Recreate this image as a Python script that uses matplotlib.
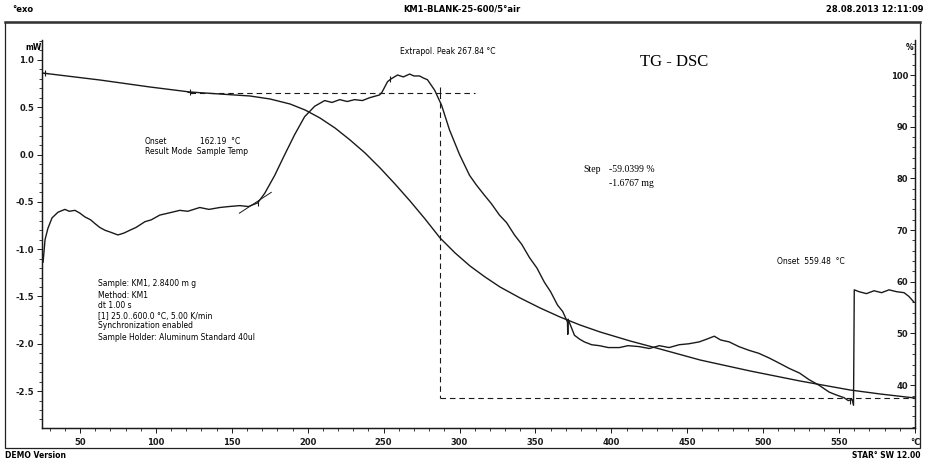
import matplotlib
matplotlib.use("Agg")
import matplotlib.pyplot as plt
from matplotlib.ticker import MultipleLocator, FixedLocator, FixedFormatter
from matplotlib.lines import Line2D
from matplotlib.patches import Rectangle

# ---------------- data ----------------
# DSC signal (mW) vs sample temperature (°C)
dsc_temp = [25.0, 25.7, 27.0, 28.9, 31.6, 35.5, 40.1, 43.0, 46.7, 50.0, 53.3, 57.0, 59.9, 63.0,
            66.4, 70.0, 75.0, 79.0, 82.9, 87.0, 92.8, 97.0, 102.6, 108.0, 115.8, 121.0, 128.9,
            135.0, 142.1, 148.0, 155.3, 161.0, 167.1, 171.7, 178.3, 184.9, 191.4, 198.0, 204.6,
            211.2, 216.0, 221.1, 226.0, 230.9, 236.0, 240.8, 247.4, 249.0, 252.6, 255.0, 259.2,
            263.0, 267.1, 270.0, 273.7, 276.0, 278.9, 283.6, 288.2, 293.4, 300.0, 306.6, 311.0,
            316.4, 321.0, 326.3, 331.0, 336.2, 341.0, 346.1, 351.0, 355.9, 360.0, 364.5, 368.0,
            371.1, 371.3, 371.5, 375.7, 379.0, 382.2, 387.0, 392.1, 398.0, 405.3, 411.0, 418.4,
            425.0, 431.6, 438.0, 444.7, 451.0, 457.9, 463.0, 467.8, 472.0, 477.6, 484.0, 490.8,
            497.0, 503.9, 510.0, 517.1, 524.0, 530.3, 537.0, 543.4, 548.0, 553.3, 556.0, 558.6,
            559.5, 560.0, 563.2, 568.0, 573.0, 578.0, 582.9, 588.0, 592.8, 596.0, 599.3]
dsc_mw = [-1.01, -1.14, -0.90, -0.78, -0.67, -0.61, -0.58, -0.60, -0.59, -0.62, -0.66, -0.69,
          -0.73, -0.77, -0.80, -0.82, -0.85, -0.83, -0.80, -0.77, -0.71, -0.69, -0.64, -0.62,
          -0.59, -0.60, -0.56, -0.58, -0.56, -0.55, -0.54, -0.55, -0.51, -0.41, -0.22, 0.00,
          0.21, 0.40, 0.51, 0.57, 0.55, 0.58, 0.56, 0.58, 0.57, 0.60, 0.63, 0.66, 0.77, 0.80,
          0.84, 0.82, 0.85, 0.83, 0.83, 0.81, 0.79, 0.68, 0.52, 0.26, 0.00, -0.22, -0.32, -0.43,
          -0.52, -0.64, -0.72, -0.85, -0.95, -1.09, -1.20, -1.35, -1.45, -1.59, -1.66, -1.77,
          -1.90, -1.74, -1.91, -1.95, -1.98, -2.01, -2.02, -2.04, -2.04, -2.02, -2.03, -2.05,
          -2.02, -2.04, -2.01, -2.00, -1.98, -1.95, -1.92, -1.96, -1.98, -2.03, -2.07, -2.10,
          -2.15, -2.20, -2.26, -2.31, -2.38, -2.44, -2.51, -2.54, -2.57, -2.60, -2.59, -2.65,
          -1.43, -1.45, -1.47, -1.44, -1.46, -1.43, -1.45, -1.46, -1.50, -1.56]

# TG signal (%) vs sample temperature (°C)
tg_temp = [25.0, 63.2, 96.1, 122.5, 142.3, 162.0, 175.2, 188.4, 198.3, 208.1, 218.0, 227.9,
           237.8, 247.7, 257.5, 267.4, 277.3, 287.2, 297.1, 306.9, 316.8, 326.7, 339.9, 353.1,
           366.2, 379.4, 392.6, 412.4, 432.1, 458.5, 491.4, 524.3, 557.3, 577.0, 600.0]
tg_pct = [100.39, 99.03, 97.68, 96.71, 96.32, 95.94, 95.36, 94.39, 93.23, 91.68, 89.75, 87.43,
          84.91, 82.01, 78.92, 75.63, 72.15, 68.47, 65.57, 63.06, 60.93, 58.99, 56.87, 54.93,
          53.19, 51.64, 50.29, 48.55, 47.00, 44.87, 42.75, 40.81, 39.07, 38.30, 37.52]

# TG step evaluation (levels in %, temperatures in °C)
step_left_temp = [122.5, 310.2]
step_level_hi = 96.5
step_mid_temp = 287.2
step_right_temp = [287.2, 600.0]
step_level_lo = 37.5

x_ticks = [50, 100, 150, 200, 250, 300, 350, 400, 450, 500, 550, 600]
x_labels = ["50", "100", "150", "200", "250", "300", "350", "400", "450", "500", "550", "°C"]
mw_ticks = [1.0, 0.5, 0.0, -0.5, -1.0, -1.5, -2.0, -2.5]
mw_labels = ["1.0", "0.5", "0.0", "-0.5", "-1.0", "-1.5", "-2.0", "-2.5"]
pct_ticks = [100, 90, 80, 70, 60, 50, 40]
pct_labels = ["100", "90", "80", "70", "60", "50", "40"]

# ---------------- figure ----------------
W, H = 925, 463
fig = plt.figure(figsize=(W / 100, H / 100), dpi=100)
fig.patch.set_facecolor("white")

def fx(x):
    return x / W

def fy(y):
    return 1 - y / H

# outer frame
fig.add_artist(Rectangle((fx(5), fy(448)), fx(920) - fx(5), fy(22) - fy(448),
                         transform=fig.transFigure, fill=False, lw=0.9, ec="#222222"))
fig.add_artist(Line2D([fx(5), fx(920)], [fy(22), fy(22)], transform=fig.transFigure,
                      lw=1.8, color="#333333"))

ink = "#1a1a1a"
ax = fig.add_axes([fx(42), fy(428), fx(915) - fx(42), fy(40) - fy(428)])
ax.set_facecolor("none")
ax.set_xlim(25, 600)
ax.set_ylim(-2.89, 1.21)
ax2 = ax.twinx()
ax2.set_ylim(31.72, 106.77)

for a in (ax, ax2):
    a.spines["top"].set_visible(False)
    for s in ("left", "right", "bottom"):
        a.spines[s].set_linewidth(0.9)
        a.spines[s].set_color(ink)

ax.xaxis.set_major_locator(FixedLocator(x_ticks))
ax.xaxis.set_major_formatter(FixedFormatter(x_labels))
ax.xaxis.set_minor_locator(MultipleLocator(10))
ax.yaxis.set_major_locator(FixedLocator(mw_ticks))
ax.yaxis.set_major_formatter(FixedFormatter(mw_labels))
ax.yaxis.set_minor_locator(MultipleLocator(0.1))
ax.tick_params(axis="both", which="major", length=3.5, width=0.7, colors=ink,
               labelsize=6, pad=2)
ax.tick_params(axis="both", which="minor", length=2.2, width=0.6, colors=ink)
ax.tick_params(axis="x", pad=4)

ax2.yaxis.set_major_locator(FixedLocator(pct_ticks))
ax2.yaxis.set_major_formatter(FixedFormatter(pct_labels))
ax2.yaxis.set_minor_locator(MultipleLocator(2))
ax2.tick_params(axis="y", which="major", direction="in", length=3.5, width=0.7,
                colors=ink, labelsize=6, pad=-5)
ax2.tick_params(axis="y", which="minor", direction="in", length=2.2, width=0.6, colors=ink)
for lab in ax2.get_yticklabels():
    lab.set_horizontalalignment("right")

for lab in ax.get_xticklabels() + ax.get_yticklabels() + ax2.get_yticklabels():
    lab.set_fontweight("bold")

# curves
ax.plot(dsc_temp, dsc_mw, color=ink, lw=1.0)
ax2.plot(tg_temp, tg_pct, color=ink, lw=1.0)

# step evaluation lines
dash = dict(color=ink, lw=0.8, ls=(0, (5, 3.5)))
ax2.plot(step_left_temp, [step_level_hi, step_level_hi], **dash)
ax2.plot([step_mid_temp, step_mid_temp], [step_level_hi, step_level_lo], **dash)
ax2.plot(step_right_temp, [step_level_lo, step_level_lo], **dash)

# small evaluation markers
ax2.plot([27.0, tg_temp[3]], [tg_pct[0], tg_pct[3]], ls="none", marker="+", ms=5,
         mew=0.8, color=ink)
ax.plot([167.1, 254.0, 287.0, 557.5], [-0.51, 0.80, 0.68, -2.60], ls="none", marker="|",
        ms=5, mew=0.8, color=ink)
# onset tangent at 162.19 °C
ax.plot([155.0, 176.0], [-0.62, -0.40], color=ink, lw=0.7)

# ---------------- texts ----------------
fs_hdr = 6
fig.text(fx(12), fy(9), "°exo", fontsize=fs_hdr, fontweight="bold", va="center", ha="left")
fig.text(fx(462), fy(9), "KM1-BLANK-25-600/5°air", fontsize=fs_hdr, fontweight="bold",
         va="center", ha="center")
fig.text(fx(924), fy(9), "28.08.2013 12:11:09", fontsize=fs_hdr, fontweight="bold",
         va="center", ha="right")
fig.text(fx(5), fy(456), "DEMO Version", fontsize=5.5, fontweight="bold", va="center",
         ha="left")
fig.text(fx(921), fy(456), "STAR° SW 12.00", fontsize=5.5, fontweight="bold", va="center",
         ha="right")

fig.text(fx(25), fy(47), "mW", fontsize=5.5, fontweight="bold", va="center", ha="left")
fig.text(fx(906), fy(47), "%", fontsize=5.5, fontweight="bold", va="center", ha="left")

fs = 5.5
fig.text(fx(400), fy(51), "Extrapol. Peak 267.84 °C", fontsize=fs, va="center", ha="left")
fig.text(fx(640), fy(62), "TG - DSC", fontsize=12, family="Liberation Serif",
         va="center", ha="left")
fig.text(fx(145), fy(141), "Onset", fontsize=fs, va="center", ha="left")
fig.text(fx(200), fy(141), "162.19  °C", fontsize=fs, va="center", ha="left")
fig.text(fx(145), fy(152), "Result Mode  Sample Temp", fontsize=fs, va="center", ha="left")

info = ["Sample: KM1, 2.8400 m g", "Method: KM1", "dt 1.00 s",
        "[1] 25.0..600.0 °C, 5.00 K/min", "Synchronization enabled",
        "Sample Holder: Aluminum Standard 40ul"]
info_y = [283, 295, 305, 316, 326, 338]
for t, yy in zip(info, info_y):
    fig.text(fx(98), fy(yy), t, fontsize=fs, va="center", ha="left")

fig.text(fx(583), fy(170), "Step", fontsize=7, family="Liberation Serif", va="center",
         ha="left")
fig.text(fx(609), fy(170), "-59.0399 %", fontsize=7, family="Liberation Serif",
         va="center", ha="left")
fig.text(fx(609), fy(183), "-1.6767 mg", fontsize=7, family="Liberation Serif",
         va="center", ha="left")
fig.text(fx(777), fy(261), "Onset  559.48  °C", fontsize=fs, va="center", ha="left")

fig.savefig("out.png", dpi=100)
